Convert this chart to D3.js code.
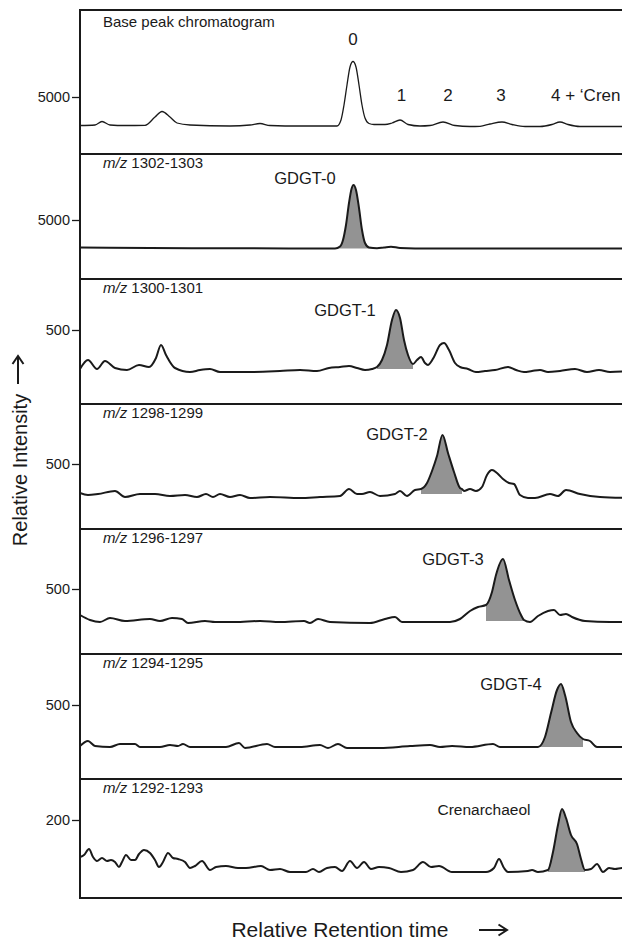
<!DOCTYPE html>
<html>
<head>
<meta charset="utf-8">
<script src="https://cdn.jsdelivr.net/npm/d3@7"></script>
<style>
  body { margin: 0; background: #fff; }
  text { font-family: "Liberation Sans", Arial, sans-serif; fill: #1a1a1a; }
</style>
</head>
<body>
<script>
// retention time (relative units) and intensity for each trace
var basePeak = [[0,2150],[3,2200],[4.4,2550],[6,2200],[9,2150],[13,2170],[15,3000],[16.4,3550],[18,3000],[19.4,2400],[22,2200],[30,2100],[34,2200],[36,2350],[38,2150],[44,2100],[51.4,2100],[52.2,2700],[52.8,4200],[53.4,6200],[54,8000],[54.6,8550],[55.2,8000],[55.8,6200],[56.4,4200],[57,2900],[57.8,2350],[58.8,2250],[61,2250],[62.4,2400],[64,2700],[65.6,2250],[68,2100],[70,2150],[72.6,2500],[75,2150],[78,2050],[80,2070],[82,2300],[84.4,2500],[86.4,2250],[89,2050],[92,2050],[94.4,2250],[96,2500],[97.6,2250],[100,2050],[110,2050]];

var mz1302 = [[0,2250],[14,2200],[34,2170],[51,2150],[52,2350],[52.6,3000],[53.2,4500],[53.8,6700],[54.3,8100],[54.7,8500],[55.2,8000],[55.8,6200],[56.4,4000],[57,2700],[57.8,2250],[59.4,2170],[60.8,2250],[62.2,2330],[64,2200],[70,2150],[110,2150]];

var mz1300 = [[0,110],[1.6,200],[3.4,110],[5,190],[7,120],[9.4,100],[11.8,150],[13.8,130],[15.2,220],[16.2,350],[17.2,250],[19,120],[22,80],[24,100],[26,110],[28,80],[34,80],[40,90],[44,100],[47.4,90],[49.8,120],[52,130],[53.8,140],[55.4,120],[57,100],[58.4,110],[59.4,130],[60.4,200],[61.4,350],[62.4,600],[63.2,700],[64,620],[64.8,400],[65.6,250],[66.6,160],[67.4,200],[68.2,230],[69,170],[69.6,150],[70.8,230],[72,350],[72.8,370],[73.8,300],[75,170],[76,130],[77.6,110],[79.2,80],[81,90],[83,100],[85.6,130],[87.2,100],[88.8,80],[90.4,90],[92,100],[93.6,80],[96,90],[99,110],[101.4,80],[103.8,100],[106,80],[110,90]];

var mz1298 = [[0,210],[1.6,190],[3.6,200],[7,230],[9,170],[12,200],[15,200],[18,180],[21,190],[23.4,170],[25.2,200],[26.6,170],[28,200],[30,170],[32,190],[34,160],[38,170],[44,160],[48,170],[52,180],[53.8,250],[55.4,200],[56.4,200],[58,220],[60,180],[63,200],[64,230],[65.4,180],[67,240],[68.2,250],[69.4,310],[70.4,430],[71.4,580],[72.5,790],[73.6,610],[74.8,420],[76,260],[76.4,250],[76.8,230],[78,250],[79.2,230],[80.4,270],[81.4,390],[82.4,440],[83.4,410],[84.6,350],[85.8,310],[86.8,300],[88,190],[89.6,160],[91,160],[94,200],[95.6,180],[97.2,240],[100,200],[104,170],[110,160]];

var mz1296 = [[0,240],[2,190],[4,170],[6,210],[9,180],[14,200],[16,180],[18.4,210],[20.4,200],[21.6,160],[25,180],[27,170],[31,170],[36,180],[40,170],[44.8,180],[46,160],[47.6,200],[50,170],[58,160],[61,200],[63,220],[64.4,170],[68,170],[74,170],[76,200],[78,280],[79.6,320],[81.2,340],[82.4,470],[83.2,640],[84.6,800],[85.8,590],[87,390],[88.2,240],[88.8,190],[90,170],[91.6,230],[93.6,280],[94.8,290],[96,240],[97.2,250],[98.4,220],[101,180],[106,170],[110,170]];

var mz1294 = [[0,90],[1.6,140],[3,90],[6,80],[8,110],[11,110],[12,80],[16,80],[18,100],[19.6,90],[20.6,110],[22,80],[26,80],[29.2,80],[31.8,120],[33,70],[37.4,110],[39,80],[44,80],[48,100],[49.6,70],[51.6,110],[53.4,70],[60,70],[66,90],[70,100],[72,80],[74.4,90],[78,80],[82.6,110],[84,80],[90,80],[91.6,80],[93,180],[94.2,420],[95.4,650],[96.2,710],[97,600],[98.2,330],[99.4,220],[100.6,160],[102,140],[103.4,80],[106,80],[110,80]];

var mz1292 = [[0,89],[0.8,95],[1.8,113],[2.6,89],[3.4,77],[4.4,86],[5.4,77],[6.2,80],[7,74],[7.8,59],[8.4,74],[9.2,95],[10.2,80],[11,80],[11.8,98],[12.8,110],[14,101],[15,80],[15.8,59],[16.6,74],[17.6,101],[18.6,86],[19.6,83],[21,74],[22,56],[23,62],[24.4,77],[26,50],[27.2,59],[29.2,62],[31.6,56],[33.2,56],[36.2,62],[38,50],[40,53],[42,44],[45.2,44],[46.6,53],[47.8,44],[49.4,56],[51,59],[52.4,47],[54,77],[55.4,56],[56.8,74],[58.2,53],[59.8,59],[61.8,56],[64.2,44],[66.6,50],[68.6,74],[70.2,59],[71.8,62],[74.4,44],[81.2,44],[82.8,56],[83.8,83],[84.8,56],[85.6,44],[89.6,47],[90.4,50],[91.6,44],[93.6,50],[94.6,104],[95.6,185],[96.4,233],[97.2,206],[98.2,155],[99.4,128],[100.2,83],[101,50],[102.2,53],[103.4,68],[104.6,44],[105.8,56],[107,53],[108.4,56],[110,53]];

var traces = [basePeak, mz1302, mz1300, mz1298, mz1296, mz1294, mz1292];
var panelLabels = ["Base peak chromatogram", "1302-1303", "1300-1301", "1298-1299", "1296-1297", "1294-1295", "1292-1293"];
var tickValues = [5000, 5000, 500, 500, 500, 500, 200];
var yDomains = [[-700, 13700], [-900, 11600], [-240, 1010], [-150, 1100], [-150, 1100], [-240, 1010], [-34, 323]];

// shaded compound peaks: [panel, start, end, base intensity, label, label time, label intensity]
var compounds = [
  [1, 51, 59.4, 2150, "GDGT-0", 45, 8600],
  [2, 59.4, 66.6, 110, "GDGT-1", 53, 640],
  [3, 68.2, 76.4, 200, "GDGT-2", 63.4, 740],
  [4, 81.2, 88.8, 180, "GDGT-3", 74.6, 740],
  [5, 91.6, 100.6, 80, "GDGT-4", 86.2, 650],
  [6, 93.6, 101, 44, "Crenarchaeol", 80.8, 215]
];

// peak numbers on the base peak chromatogram
var bpLabels = ["0", "1", "2", "3", "4 + \u2018Cren"];
var bpLabelTimes = [54.6, 64.3, 73.6, 84.2, 94.2];
var bpLabelValues = [10200, 4600, 4600, 4600, 4600];

var panelTops = [10, 154, 279, 404, 529, 654, 779];
var panelBottom = 898;

var W = 622, H = 942;
var svg = d3.select("body").append("svg").attr("width", W).attr("height", H);

var x = d3.scaleLinear().domain([0, 110]).range([80, 630]);
var ink = "#1a1a1a";

traces.forEach(function(data, i) {
  var top = panelTops[i];
  var bottom = i < 6 ? panelTops[i + 1] : panelBottom;
  var y = d3.scaleLinear().domain(yDomains[i]).range([bottom, top]);
  var g = svg.append("g");

  // shaded compound
  compounds.filter(function(c) { return c[0] === i; }).forEach(function(c) {
    var pts = data.filter(function(d) { return d[0] >= c[1] && d[0] <= c[2]; });
    g.append("path")
      .datum(pts)
      .attr("fill", "#939393")
      .attr("d", d3.area()
        .x(function(d) { return x(d[0]); })
        .y0(y(c[3]))
        .y1(function(d) { return y(d[1]); })
        .curve(d3.curveMonotoneX));
    g.append("text")
      .attr("x", x(c[5])).attr("y", y(c[6]))
      .attr("text-anchor", "middle")
      .style("font-size", i === 6 ? "15.5px" : "16.5px")
      .text(c[4]);
  });

  g.append("path")
    .datum(data)
    .attr("fill", "none")
    .attr("stroke", ink)
    .attr("stroke-width", i === 0 ? 1.3 : 2)
    .attr("stroke-linejoin", "round")
    .attr("d", d3.line()
      .x(function(d) { return x(d[0]); })
      .y(function(d) { return y(d[1]); })
      .curve(d3.curveMonotoneX));

  // panel frame
  g.append("rect")
    .attr("x", 80).attr("y", top)
    .attr("width", 570).attr("height", bottom - top)
    .attr("fill", "none").attr("stroke", ink).attr("stroke-width", 2);

  // tick
  var ax = g.append("g").attr("transform", "translate(80,0)")
    .call(d3.axisLeft(y).tickValues([tickValues[i]]).tickFormat(d3.format("d")).tickSize(8).tickPadding(2));
  ax.select(".domain").remove();
  ax.selectAll("line").attr("stroke", ink).attr("stroke-width", 1.3);
  ax.selectAll("text").style("font-size", "14.5px").style("font-family", "Liberation Sans, Arial, sans-serif").attr("fill", ink);

  // panel label
  var lab = g.append("text").attr("x", 103).attr("y", i === 0 ? top + 17 : top + 14)
    .style("font-size", "15px");
  if (i === 0) {
    lab.text(panelLabels[i]);
  } else {
    lab.append("tspan").style("font-style", "italic").text("m/z");
    lab.append("tspan").text(" " + panelLabels[i]);
  }

  if (i === 0) {
    bpLabels.forEach(function(t, k) {
      g.append("text")
        .attr("x", x(bpLabelTimes[k])).attr("y", y(bpLabelValues[k]))
        .attr("text-anchor", k === 4 ? "start" : "middle")
        .style("font-size", "17px")
        .text(t);
    });
  }
});

// axis titles
svg.append("text")
  .attr("transform", "translate(27,470) rotate(-90)")
  .attr("text-anchor", "middle")
  .style("font-size", "20px")
  .text("Relative Intensity");
svg.append("path")
  .attr("d", "M18,384V357M12.5,364L18,356L23.5,364")
  .attr("fill", "none").attr("stroke", ink).attr("stroke-width", 2);

svg.append("text")
  .attr("x", 340).attr("y", 937)
  .attr("text-anchor", "middle")
  .style("font-size", "21px")
  .text("Relative Retention time");
svg.append("path")
  .attr("d", "M479,930H506M498.5,924.5L507,930L498.5,935.5")
  .attr("fill", "none").attr("stroke", ink).attr("stroke-width", 2);
</script>
</body>
</html>
